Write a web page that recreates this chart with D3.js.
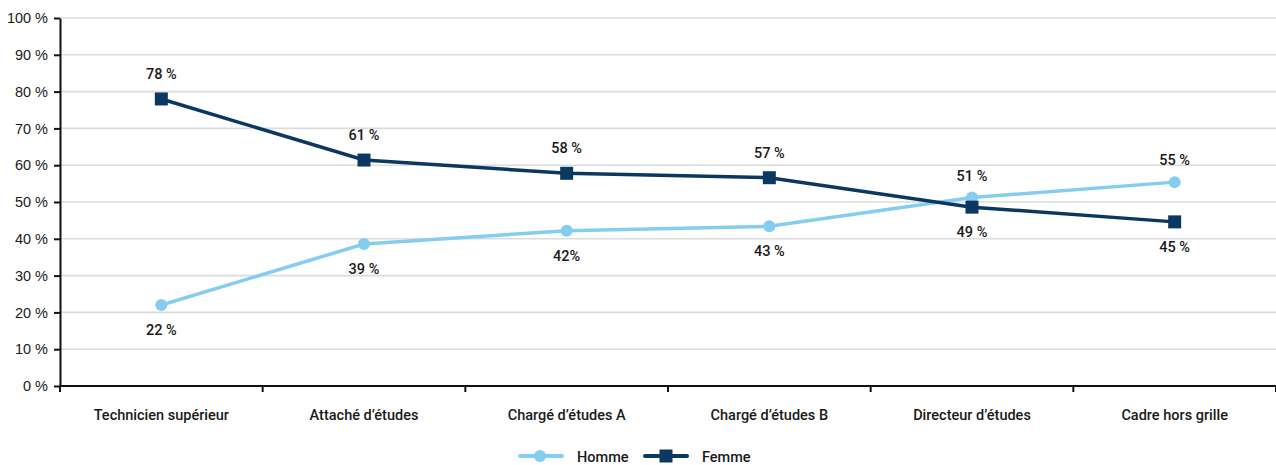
<!DOCTYPE html>
<html lang="fr">
<head>
<meta charset="utf-8">
<script src="https://cdn.jsdelivr.net/npm/d3@7"></script>
<style>
  html, body { margin: 0; padding: 0; background: #fff; }
  svg { display: block; font-family: Roboto, "Liberation Sans", sans-serif; font-weight: 500; }
</style>
</head>
<body>
<svg id="chart" width="1276" height="465"></svg>
<script>
// Répartition par sexe selon le grade
const categories = ["Technicien supérieur", "Attaché d’études", "Chargé d’études A", "Chargé d’études B", "Directeur d’études", "Cadre hors grille"];
const homme = [22.0, 38.6, 42.2, 43.4, 51.2, 55.4];
const femme = [78.0, 61.4, 57.8, 56.6, 48.6, 44.6];
const hommeLabels = ["22 %", "39 %", "42%", "43 %", "51 %", "55 %"];
const femmeLabels = ["78 %", "61 %", "58 %", "57 %", "49 %", "45 %"];
const yTicks = [0, 10, 20, 30, 40, 50, 60, 70, 80, 90, 100];
const seriesNames = ["Homme", "Femme"];

const colHomme = "#85cdf0";
const colFemme = "#0b3861";
const textCol = "#1a1a1a";
const fs = 14.5;

const svg = d3.select("#chart");
const margin = { left: 60, right: 0, top: 18, bottom: 79 };
const W = 1276, H = 465;

const x = d3.scaleBand().domain(categories).range([margin.left, W - margin.right]);
const y = d3.scaleLinear().domain([0, 100]).range([H - margin.bottom, margin.top]);

// grid
svg.append("g")
  .selectAll("line")
  .data(yTicks.filter(t => t > 0))
  .join("line")
  .attr("x1", margin.left).attr("x2", W - margin.right)
  .attr("y1", d => y(d)).attr("y2", d => y(d))
  .attr("stroke", "#dcdcdc").attr("stroke-width", 1.6);

// y axis
const yAxis = svg.append("g")
  .attr("transform", `translate(${margin.left},0)`)
  .call(d3.axisLeft(y).tickValues(yTicks).tickFormat(d => d + " %").tickSize(6).tickSizeOuter(0).tickPadding(6));
yAxis.select(".domain").attr("stroke", "#111").attr("stroke-width", 2);
yAxis.selectAll(".tick line").attr("stroke", "#111").attr("stroke-width", 2);
yAxis.selectAll(".tick text").attr("font-size", fs).attr("font-family", "inherit").attr("fill", textCol);

// x axis: ticks at band boundaries
const xAxisG = svg.append("g").attr("transform", `translate(0,${y(0)})`);
xAxisG.append("line")
  .attr("x1", margin.left - 1).attr("x2", W - margin.right)
  .attr("stroke", "#111").attr("stroke-width", 2);
const bounds = categories.map(c => x(c)).concat([x(categories[categories.length - 1]) + x.bandwidth()]);
xAxisG.selectAll("line.b").data(bounds).join("line").attr("class", "b")
  .attr("x1", d => d).attr("x2", d => d).attr("y1", 0).attr("y2", 6)
  .attr("stroke", "#111").attr("stroke-width", 2);
xAxisG.selectAll("text").data(categories).join("text")
  .attr("x", d => x(d) + x.bandwidth() / 2)
  .attr("y", 34)
  .attr("text-anchor", "middle")
  .attr("font-size", fs)
  .attr("fill", textCol)
  .text(d => d);

const cx = d => x(d) + x.bandwidth() / 2;
const line = d3.line().x(d => cx(d.c)).y(d => y(d.v));

const hData = categories.map((c, i) => ({ c, v: homme[i], label: hommeLabels[i] }));
const fData = categories.map((c, i) => ({ c, v: femme[i], label: femmeLabels[i] }));

// Homme
svg.append("path").datum(hData).attr("d", line)
  .attr("fill", "none").attr("stroke", colHomme).attr("stroke-width", 3.5);
// Femme
svg.append("path").datum(fData).attr("d", line)
  .attr("fill", "none").attr("stroke", colFemme).attr("stroke-width", 3.5);

svg.append("g").selectAll("circle").data(hData).join("circle")
  .attr("cx", d => cx(d.c)).attr("cy", d => y(d.v)).attr("r", 6)
  .attr("fill", colHomme);

const sq = 13;
svg.append("g").selectAll("rect").data(fData).join("rect")
  .attr("x", d => cx(d.c) - sq / 2).attr("y", d => y(d.v) - sq / 2)
  .attr("width", sq).attr("height", sq)
  .attr("fill", colFemme);

// value labels: the higher series above, the lower below
const labelG = svg.append("g").attr("font-size", fs).attr("fill", textCol).attr("text-anchor", "middle");
hData.forEach((d, i) => {
  const above = d.v > femme[i];
  labelG.append("text").attr("x", cx(d.c))
    .attr("y", y(d.v) + (above ? -17 : 30)).text(d.label);
});
fData.forEach((d, i) => {
  const above = d.v > homme[i];
  labelG.append("text").attr("x", cx(d.c))
    .attr("y", y(d.v) + (above ? -20 : 30)).text(d.label);
});

// legend
const lg = svg.append("g").attr("font-size", fs).attr("fill", textCol);
const legendItems = [
  { name: seriesNames[0], color: colHomme, x0: 520, shape: "circle" },
  { name: seriesNames[1], color: colFemme, x0: 645, shape: "square" }
];
const ly = 456;
legendItems.forEach(it => {
  lg.append("line").attr("x1", it.x0).attr("x2", it.x0 + 42).attr("y1", ly).attr("y2", ly)
    .attr("stroke", it.color).attr("stroke-width", 4).attr("stroke-linecap", "round");
  if (it.shape === "circle") {
    lg.append("circle").attr("cx", it.x0 + 20).attr("cy", ly).attr("r", 6).attr("fill", it.color);
  } else {
    lg.append("rect").attr("x", it.x0 + 21 - 6.5).attr("y", ly - 6.5).attr("width", 13).attr("height", 13).attr("fill", it.color);
  }
  lg.append("text").attr("x", it.x0 + 57).attr("y", ly + 6).text(it.name);
});
</script>
</body>
</html>
